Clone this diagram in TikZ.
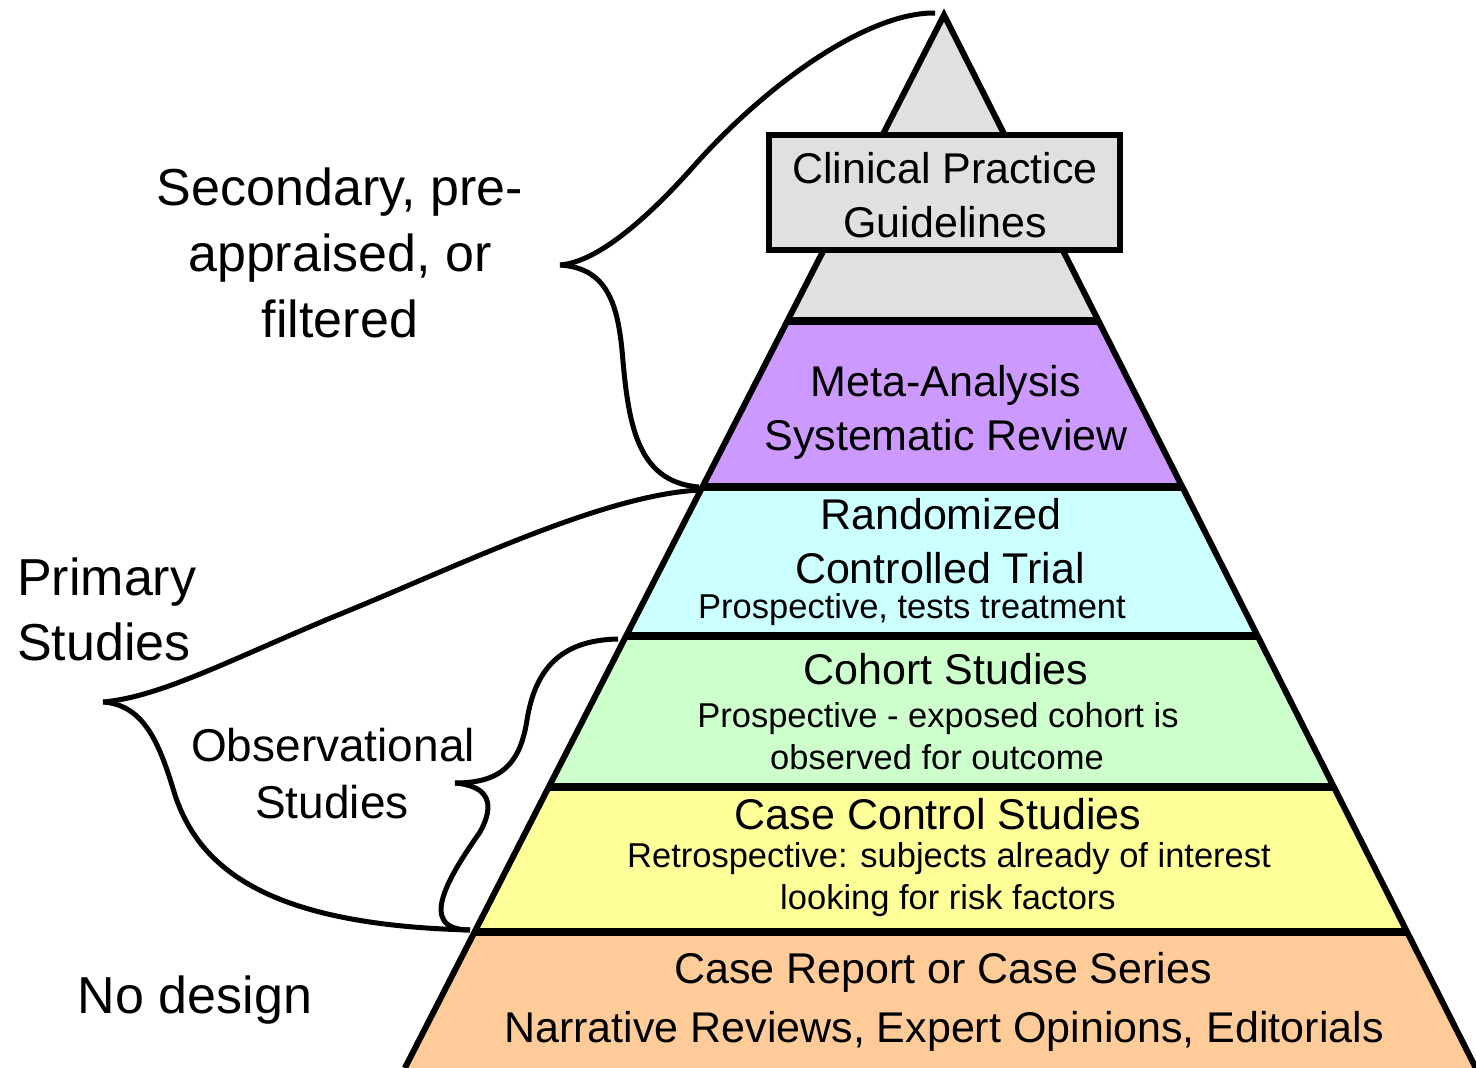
\documentclass[tikz,border=0pt]{standalone}
\usepackage{fontspec}
\setmainfont{Liberation Sans}
\usetikzlibrary{calc}

\definecolor{tipgrey}{HTML}{E0E0E0}
\definecolor{metapurple}{HTML}{CC99FF}
\definecolor{rctcyan}{HTML}{CCFFFF}
\definecolor{cohortgreen}{HTML}{CCFFCC}
\definecolor{ccyellow}{HTML}{FFFF99}
\definecolor{caseorange}{HTML}{FFCC99}

\begin{document}
\begin{tikzpicture}[x=1pt,y=-1pt,
  lbl/.style={anchor=base, inner sep=0pt, font=\fontsize{43}{54}\selectfont},
  sublbl/.style={anchor=base, inner sep=0pt, font=\fontsize{34.5}{42}\selectfont},
  sidelbl/.style={anchor=base, inner sep=0pt, font=\fontsize{52}{66}\selectfont},
  obslbl/.style={anchor=base, inner sep=0pt, font=\fontsize{46}{57}\selectfont},
  bracepath/.style={line width=5pt, line join=round},
  tierline/.style={line width=8pt},
  outline/.style={line width=6pt, line join=miter}]

\useasboundingbox (0,0) rectangle (1476,1068);

% pyramid corners
\coordinate (apex) at (944,15);
\coordinate (bl) at (404.9,1068);
\coordinate (br) at (1475.8,1068);

% coloured tiers, clipped to the triangle
\begin{scope}
  \clip (apex) -- (bl) -- (br) -- cycle;
  \fill[tipgrey]     (0,0)   rectangle (1476,321);
  \fill[metapurple]  (0,321) rectangle (1476,487);
  \fill[rctcyan]     (0,487) rectangle (1476,636);
  \fill[cohortgreen] (0,636) rectangle (1476,787);
  \fill[ccyellow]    (0,787) rectangle (1476,932);
  \fill[caseorange]  (0,932) rectangle (1476,1068);
  \foreach \yy in {321,487,636,787,932}
    \draw[tierline] (0,\yy) -- (1476,\yy);
\end{scope}
\draw[outline] (bl) -- (apex) -- (br);

% guidelines box near the top
\node[draw, line width=6pt, fill=tipgrey, inner sep=0pt,
      minimum width=351pt, minimum height=115pt] (cpgbox) at (944.5,192.5) {};

% tier labels
\node[lbl] (cpg1) at (945,183) {Clinical Practice};
\node[lbl] (cpg2) at (945,237) {Guidelines};

\node[lbl] (meta1) at (946,396) {Meta-Analysis};
\node[lbl] (meta2) at (946,450) {Systematic Review};

\node[lbl] (rct1) at (941,529) {Randomized};
\node[lbl] (rct2) at (940,583) {Controlled Trial};
\node[sublbl] (rct3) at (912,618) {Prospective, tests treatment};

\node[lbl] (coh1) at (946,684) {Cohort Studies};
\node[sublbl] (coh2) at (938,727) {Prospective - exposed cohort is};
\node[sublbl] (coh3) at (937,769) {observed for outcome};

\node[lbl] (cc1) at (938,829) {Case Control Studies};
\node[sublbl] (cc2) at (949,867) {Retrospective: subjects already of interest};
\node[sublbl] (cc3) at (948,909) {looking for risk factors};

\node[lbl] (cr1) at (943,983) {Case Report or Case Series};
\node[lbl] (cr2) at (944,1042) {Narrative Reviews, Expert Opinions, Editorials};

% group labels on the left
\node[sidelbl] (sec1) at (340,205) {Secondary, pre-};
\node[sidelbl] (sec2) at (340,271) {appraised, or};
\node[sidelbl] (sec3) at (340,337) {filtered};

\node[sidelbl, anchor=base west] (pri1) at (17,595) {Primary};
\node[sidelbl, anchor=base west] (pri2) at (17,660) {Studies};

\node[obslbl] (obs1) at (333,761) {Observational};
\node[obslbl] (obs2) at (332,818) {Studies};

\node[sidelbl] (nodesign) at (195,1013) {No design};

% brace ends and tips
\coordinate (secTop) at (935,13);
\coordinate (secTip) at (560,265);
\coordinate (secBot) at (699,487);

\coordinate (priTop) at (700,490);
\coordinate (priTip) at (103,702);
\coordinate (priBot) at (470,930);

\coordinate (obsTop) at (618,639);
\coordinate (obsTip) at (455,783);

% secondary brace
\draw[bracepath] (secTop) .. controls (870,12) and (770,80) .. (693,167)
                 .. controls (653,212) and (600,262) .. (secTip);
\draw[bracepath] (secTip) .. controls (605,268) and (617,300) .. (622,350)
                 .. controls (628,420) and (635,482) .. (secBot);

% primary brace
\draw[bracepath] (priTop) .. controls (600,495) and (450,570) .. (333,617)
                 .. controls (230,660) and (160,697) .. (priTip);
\draw[bracepath] (priTip) .. controls (145,705) and (160,745) .. (175,795)
                 .. controls (200,870) and (270,925) .. (priBot);

% observational brace
\draw[bracepath] (obsTop) .. controls (560,640) and (535,670) .. (527,720)
                 .. controls (520,765) and (500,783) .. (obsTip);
\draw[bracepath] (obsTip) .. controls (490,786) and (495,805) .. (480,832)
                 .. controls (450,875) and (415,930) .. (priBot);

\end{tikzpicture}
\end{document}
